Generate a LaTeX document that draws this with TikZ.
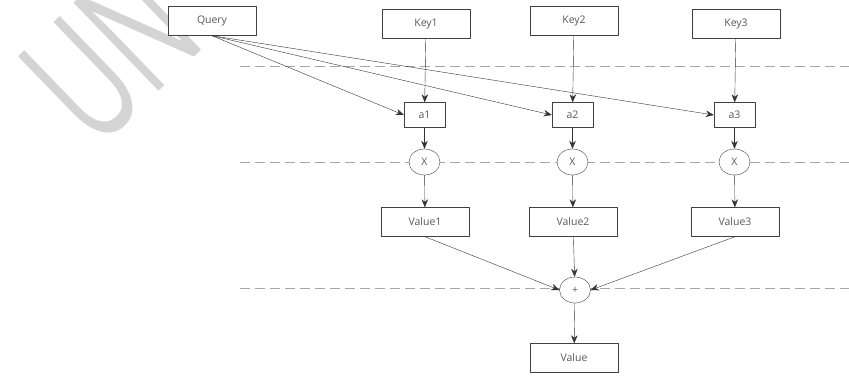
\documentclass[tikz,border=0pt]{standalone}
\usepackage{fontspec}
\setmainfont{Open Sans}
\usetikzlibrary{arrows.meta,shapes.geometric}
\tikzset{
  blk/.style={draw=black!75, fill=white, text=black!65, minimum width=88bp, minimum height=29bp, inner sep=0pt},
  sblk/.style={draw=black!75, fill=white, text=black!65, minimum width=41bp, minimum height=25bp, inner sep=0pt},
  op/.style={ellipse, draw=black!75, fill=white, text=black!65, minimum width=31bp, minimum height=26bp, inner sep=0pt},
  lane/.style={black!35, dash pattern=on 10bp off 5bp},
  conn/.style={black!80, ->}
}
\begin{document}
\begin{tikzpicture}[x=1bp,y=-1bp,font=\fontsize{10.5}{12}\selectfont,line join=round,>={Stealth[length=8bp,width=6.5bp]}]
\useasboundingbox (0,0) rectangle (849,375);
% watermark
\begin{scope}
\clip (0,0) rectangle (849,375);
\node[rotate=44, xscale=0.62, text=black!17, font=\fontsize{172}{172}\selectfont, anchor=base west, inner sep=0pt] at (96,152) {UN};
\end{scope}
% lanes
\draw[lane] (240,66)--(849,66);
\draw[lane] (240,162)--(849,162);
\draw[lane] (240,288)--(849,288);
% inputs
\node[blk] (query) at (212,21) {Query};
\foreach \i/\x/\y in {1/426/24,2/574/21,3/736/24}{
  \node[blk] (key\i) at (\x,\y) {Key\i};
  \node[sblk] (a\i) at (\x-1.5,115) {a\i};
  \node[op] (m\i) at (\x-1.5,162) {X};
  \node[blk] (value\i) at (\x-1,222) {Value\i};
}
\node[op] (plus) at (575,290) {+};
\node[blk] (value) at (574,358) {Value};
% connectors
\foreach \i in {1,2,3}{
  \draw[conn] (query.south)--(a\i.west);
  \draw[conn] (key\i)--(a\i);
  \draw[conn] (a\i)--(m\i);
  \draw[conn] (m\i)--(value\i);
}
\draw[conn] (value1.south)--(plus.west);
\draw[conn] (value2)--(plus);
\draw[conn] (value3.south)--(plus.east);
\draw[conn] (plus)--(value);
\end{tikzpicture}
\end{document}
